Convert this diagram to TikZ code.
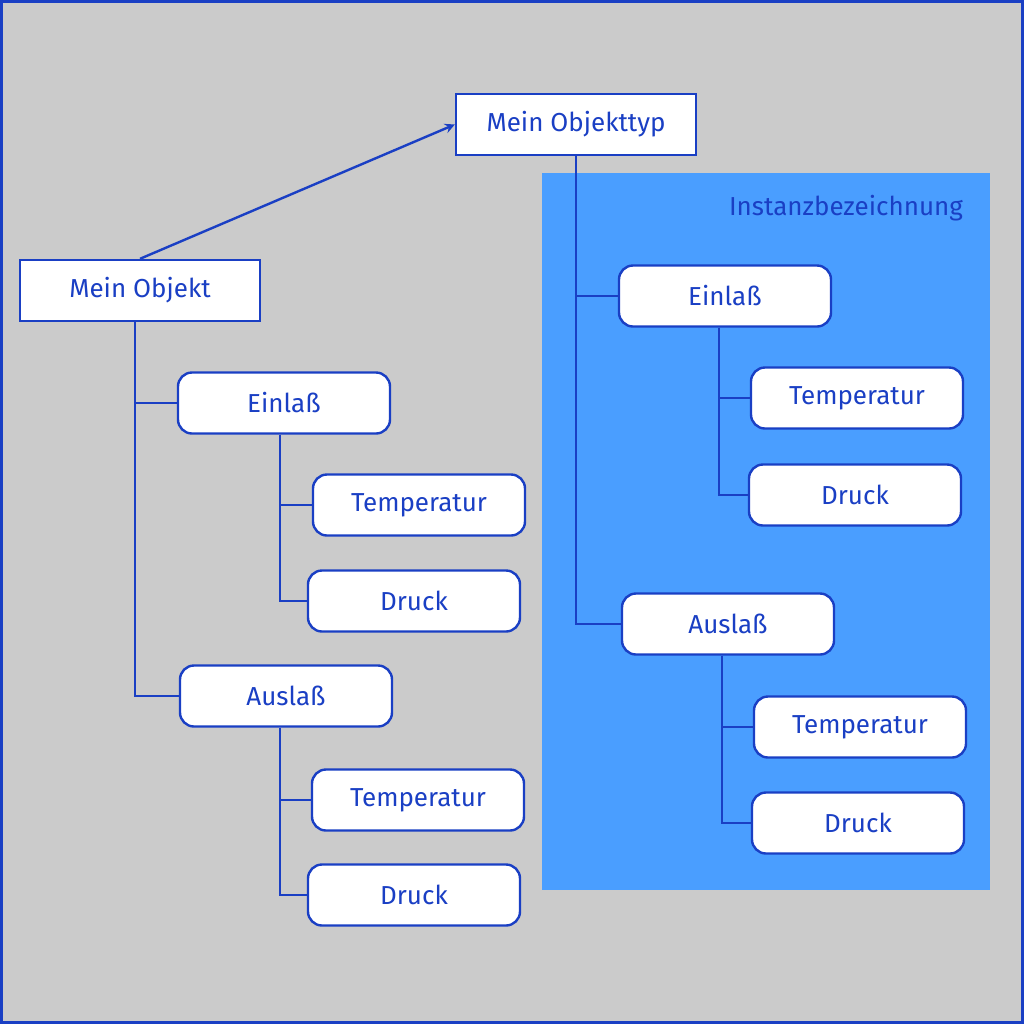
\documentclass[tikz,border=0pt]{standalone}
\usepackage{fontspec}
\setmainfont{Fira Sans}
\definecolor{bl}{HTML}{1A3FC4}
\definecolor{gr}{HTML}{CBCBCB}
\definecolor{pan}{HTML}{4A9EFF}
\begin{document}
\begin{tikzpicture}[x=0.5pt,y=-0.5pt,
  box/.style={draw=bl,line width=1.2pt,fill=white,minimum width=120pt,minimum height=30.5pt,inner sep=0pt,text=bl,font=\fontsize{13}{15}\selectfont},
  rbox/.style={box,rounded corners=7pt,minimum width=106pt,minimum height=30.5pt},
  ln/.style={draw=bl,line width=1.2pt}]
\useasboundingbox (0,0) rectangle (1024,1024);
\fill[gr] (0,0) rectangle (1024,1024);
\draw[bl,line width=1.2pt] (1.5,1.5) rectangle (1022.5,1022.5);
\fill[pan] (542,173) rectangle (990,890);
\node[text=bl,anchor=east,font=\fontsize{13}{15}\selectfont] (ib) at (970,208) {Instanzbezeichnung};
\node[box] (mt) at (576,124.5) {Mein Objekttyp};
\node[box] (mo) at (140,290.5) {Mein Objekt};
\node[rbox] (le) at (284,403) {Einlaß};
\node[rbox] (let) at (419,505) {Temperatur};
\node[rbox] (led) at (414,601) {Druck};
\node[rbox] (la) at (286,696) {Auslaß};
\node[rbox] (lat) at (418,800) {Temperatur};
\node[rbox] (lad) at (414,895) {Druck};
\node[rbox] (re) at (725,296) {Einlaß};
\node[rbox] (ret) at (857,398) {Temperatur};
\node[rbox] (red) at (855,495) {Druck};
\node[rbox] (ra) at (728,624) {Auslaß};
\node[rbox] (rat) at (860,727) {Temperatur};
\node[rbox] (rad) at (858,823) {Druck};
\draw[ln,-stealth] (mo.north) -- (mt.west);
\draw[ln] ([xshift=-2.5]mo.south) |- (le.west);
\draw[ln] ([xshift=-2.5]mo.south) |- (la.west);
\draw[ln] ([xshift=-2]le.south) |- (let.west);
\draw[ln] ([xshift=-2]le.south) |- (led.west);
\draw[ln] ([xshift=-3]la.south) |- (lat.west);
\draw[ln] ([xshift=-3]la.south) |- (lad.west);
\draw[ln] (mt.south) |- (re.west);
\draw[ln] (mt.south) |- (ra.west);
\draw[ln] ([xshift=-3]re.south) |- (ret.west);
\draw[ln] ([xshift=-3]re.south) |- (red.west);
\draw[ln] ([xshift=-3]ra.south) |- (rat.west);
\draw[ln] ([xshift=-3]ra.south) |- (rad.west);
\end{tikzpicture}
\end{document}
